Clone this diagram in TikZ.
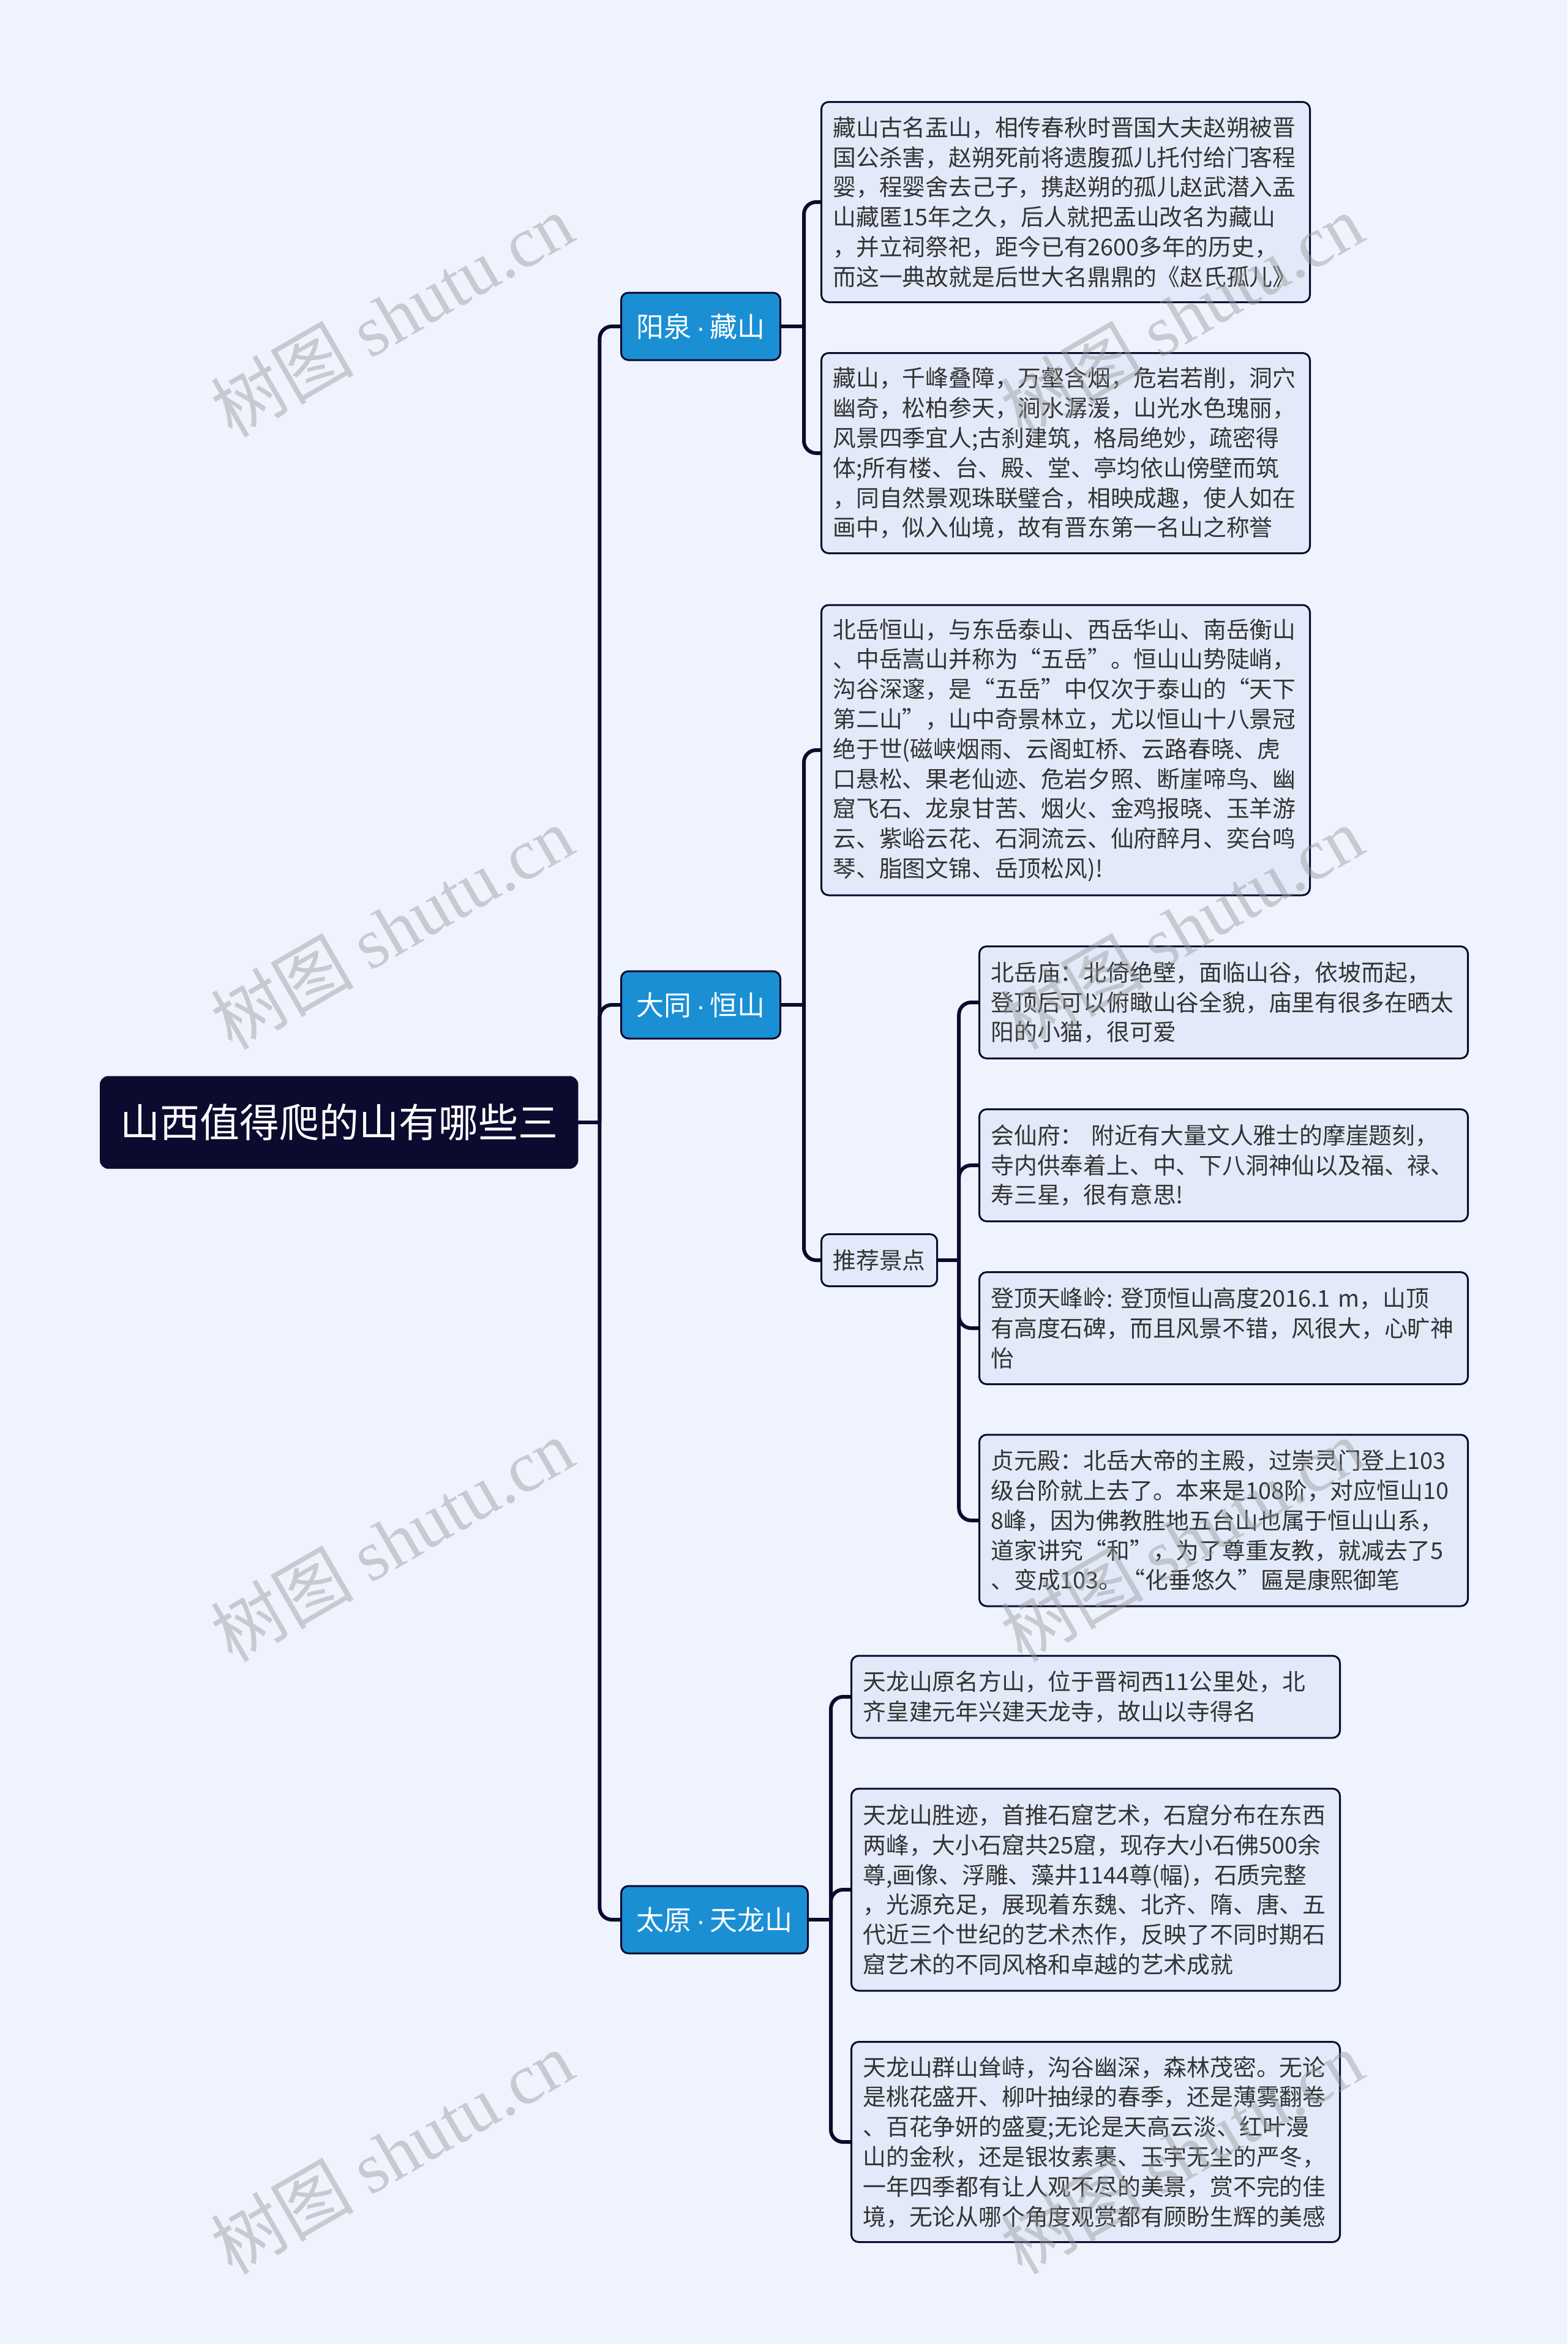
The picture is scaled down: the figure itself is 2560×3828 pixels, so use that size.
\documentclass[tikz,border=0pt]{standalone}
\usepackage{fontspec}
\setmainfont{Noto Sans CJK SC}
\newfontfamily\wmlatin{Liberation Serif}
\newfontfamily\dotfont{Liberation Sans}
\usetikzlibrary{positioning, calc}
\definecolor{PageBg} {HTML}{EEF3FE}
\definecolor{Ink}    {HTML}{0C0A2E}
\definecolor{Branch} {HTML}{1A8FD4}
\definecolor{LeafBg} {HTML}{E2EAF9}
\definecolor{TextGry}{HTML}{333333}
\newcommand{\mdot}{{\dotfont\,·\,}}

\begin{document}
\begin{tikzpicture}[
  x=1pt, y=-1pt,
  every node/.style={align=left},
  link/.style   = {draw=Ink, line width=6pt, rounded corners=20pt},
  root/.style   = {fill=Ink, draw=Ink, rounded corners=14pt, text=white,
                   font=\fontsize{65}{78}\selectfont, align=center,
                   minimum width=781pt, minimum height=151pt, inner sep=0pt},
  branch/.style = {fill=Branch, draw=Ink, line width=3pt, rounded corners=12pt,
                   text=white, font=\fontsize{45}{54}\selectfont,
                   minimum height=110pt, inner xsep=25pt, inner ysep=0pt},
  leaf/.style   = {fill=LeafBg, draw=Ink, line width=3pt, rounded corners=12pt,
                   text=TextGry, font=\fontsize{37.8}{48.8}\selectfont,
                   text width=760pt, inner xsep=19pt, inner ysep=0pt},
  tag/.style    = {fill=LeafBg, draw=Ink, line width=3pt, rounded corners=12pt,
                   text=TextGry, font=\fontsize{37.8}{48.8}\selectfont,
                   minimum height=85pt, inner xsep=19pt, inner ysep=0pt},
  wmark/.style  = {rotate=30, text=black!40, text opacity=0.45,
                   font=\fontsize{117}{117}\selectfont, align=center},
]

% ── Canvas ────────────────────────────────────────────────────────────────────
\fill[PageBg] (0,0) rectangle (2560,3828);
\useasboundingbox (0,0) rectangle (2560,3828);

% ── Root and branches ─────────────────────────────────────────────────────────
\node[root, anchor=west]   (root) at (163,1833) {山西值得爬的山有哪些三};
\node[branch, anchor=west] (yq)   at (1013, 533) {阳泉\mdot 藏山};
\node[branch, anchor=west] (dt)   at (1013,1641) {大同\mdot 恒山};
\node[branch, anchor=west] (ty)   at (1013,3135) {太原\mdot 天龙山};

% ── 阳泉·藏山 ─────────────────────────────────────────────────────────────────
\node[leaf, anchor=west, minimum height=327pt] (cs1) at (1340, 330) {%
藏山古名盂山，相传春秋时晋国大夫赵朔被晋\\
国公杀害，赵朔死前将遗腹孤儿托付给门客程\\
婴，程婴舍去己子，携赵朔的孤儿赵武潜入盂\\
山藏匿15年之久，后人就把盂山改名为藏山\\
，并立祠祭祀，距今已有2600多年的历史，\\
而这一典故就是后世大名鼎鼎的《赵氏孤儿》};
\node[leaf, anchor=west, minimum height=327pt] (cs2) at (1340, 740) {%
藏山，千峰叠障，万壑含烟，危岩若削，洞穴\\
幽奇，松柏参天，涧水潺湲，山光水色瑰丽，\\
风景四季宜人;古刹建筑，格局绝妙，疏密得\\
体;所有楼、台、殿、堂、亭均依山傍壁而筑\\
，同自然景观珠联璧合，相映成趣，使人如在\\
画中，似入仙境，故有晋东第一名山之称誉};

% ── 大同·恒山 ─────────────────────────────────────────────────────────────────
\node[leaf, anchor=west, minimum height=474pt] (hs1) at (1340,1225) {%
北岳恒山，与东岳泰山、西岳华山、南岳衡山\\
、中岳嵩山并称为“五岳”。恒山山势陡峭，\\
沟谷深邃，是“五岳”中仅次于泰山的“天下\\
第二山”，山中奇景林立，尤以恒山十八景冠\\
绝于世(磁峡烟雨、云阁虹桥、云路春晓、虎\\
口悬松、果老仙迹、危岩夕照、断崖啼鸟、幽\\
窟飞石、龙泉甘苦、烟火、金鸡报晓、玉羊游\\
云、紫峪云花、石洞流云、仙府醉月、奕台鸣\\
琴、脂图文锦、岳顶松风)!};
\node[tag, anchor=west] (tj) at (1340,2058) {推荐景点};

\node[leaf, anchor=west, minimum height=183pt] (tj1) at (1598,1637) {%
北岳庙：北倚绝壁，面临山谷，依坡而起，\\
登顶后可以俯瞰山谷全貌，庙里有很多在晒太\\
阳的小猫，很可爱};
\node[leaf, anchor=west, minimum height=183pt] (tj2) at (1598,1903) {%
会仙府：~附近有大量文人雅士的摩崖题刻，\\
寺内供奉着上、中、下八洞神仙以及福、禄、\\
寿三星，很有意思!};
\node[leaf, anchor=west, minimum height=183pt] (tj3) at (1598,2169) {%
登顶天峰岭:~登顶恒山高度2016.1~m，山顶\\
有高度石碑，而且风景不错，风很大，心旷神\\
怡};
\node[leaf, anchor=west, minimum height=280pt] (tj4) at (1598,2483) {%
贞元殿：北岳大帝的主殿，过崇灵门登上103\\
级台阶就上去了。本来是108阶，对应恒山10\\
8峰，因为佛教胜地五台山也属于恒山山系，\\
道家讲究“和”，为了尊重友教，就减去了5\\
、变成103。“化垂悠久”匾是康熙御笔};

% ── 太原·天龙山 ───────────────────────────────────────────────────────────────
\node[leaf, anchor=west, minimum height=134pt] (tl1) at (1389,2771) {%
天龙山原名方山，位于晋祠西11公里处，北\\
齐皇建元年兴建天龙寺，故山以寺得名};
\node[leaf, anchor=west, minimum height=330pt] (tl2) at (1389,3086) {%
天龙山胜迹，首推石窟艺术，石窟分布在东西\\
两峰，大小石窟共25窟，现存大小石佛500余\\
尊,画像、浮雕、藻井1144尊(幅)，石质完整\\
，光源充足，展现着东魏、北齐、隋、唐、五\\
代近三个世纪的艺术杰作，反映了不同时期石\\
窟艺术的不同风格和卓越的艺术成就};
\node[leaf, anchor=west, minimum height=327pt] (tl3) at (1389,3498) {%
天龙山群山耸峙，沟谷幽深，森林茂密。无论\\
是桃花盛开、柳叶抽绿的春季，还是薄雾翻卷\\
、百花争妍的盛夏;无论是天高云淡、红叶漫\\
山的金秋，还是银妆素裹、玉宇无尘的严冬，\\
一年四季都有让人观不尽的美景，赏不完的佳\\
境，无论从哪个角度观赏都有顾盼生辉的美感};

% ── Connectors ────────────────────────────────────────────────────────────────
\coordinate (rj)  at ($(root.east)+(35,0)$);
\coordinate (yqj) at ($(yq.east)+(37,0)$);
\coordinate (dtj) at ($(dt.east)+(37,0)$);
\coordinate (tyj) at ($(ty.east)+(36,0)$);
\coordinate (tjj) at ($(tj.east)+(34,0)$);

\draw[link] (root.east) -- (rj);
\foreach \b in {yq,dt,ty}{
  \draw[link] (rj) |- (\b.west);
}
\draw[link] (yq.east) -- (yqj);
\foreach \c in {cs1,cs2}{
  \draw[link] (yqj) |- (\c.west);
}
\draw[link] (dt.east) -- (dtj);
\foreach \c in {hs1,tj}{
  \draw[link] (dtj) |- (\c.west);
}
\draw[link] (tj.east) -- (tjj);
\foreach \c in {tj1,tj2,tj3,tj4}{
  \draw[link] (tjj) |- (\c.west);
}
\draw[link] (ty.east) -- (tyj);
\foreach \c in {tl1,tl2,tl3}{
  \draw[link] (tyj) |- (\c.west);
}

% ── Watermarks ────────────────────────────────────────────────────────────────
\foreach \y [count=\i] in {515,1515,2515,3515}{
  \node[wmark] (wml\i) at (640,\y)  {树图 {\wmlatin shutu.cn}};
  \node[wmark] (wmr\i) at (1930,\y) {树图 {\wmlatin shutu.cn}};
}

\end{tikzpicture}
\end{document}
